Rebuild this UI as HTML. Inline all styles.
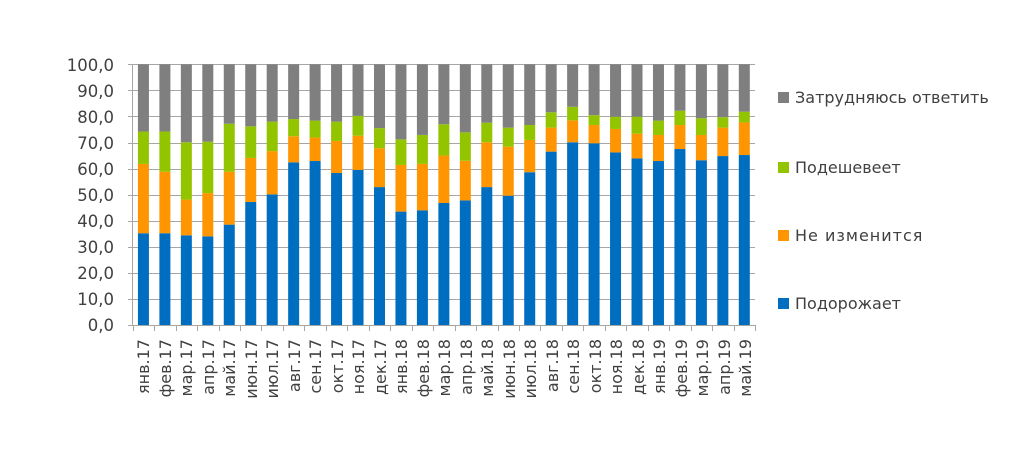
<!DOCTYPE html>
<html><head><meta charset="utf-8"><style>
html,body{margin:0;padding:0;background:#fff;}
svg{display:block;font-family:"DejaVu Sans","Liberation Sans",sans-serif;}
</style></head><body>
<svg id="c" width="1028" height="459" viewBox="0 0 1028 459" xmlns="http://www.w3.org/2000/svg">
<g id="grid" stroke="#a6a6a6" stroke-width="1"></g>
<g id="bars"></g>
<g font-size="16.5" fill="#404040" text-anchor="end">
<text x="114" y="331">0,0</text>
<text x="114" y="305">10,0</text>
<text x="114" y="279">20,0</text>
<text x="114" y="253">30,0</text>
<text x="114" y="227">40,0</text>
<text x="114" y="201">50,0</text>
<text x="114" y="175">60,0</text>
<text x="114" y="149">70,0</text>
<text x="114" y="123">80,0</text>
<text x="114" y="97">90,0</text>
<text x="114" y="71">100,0</text>
</g>
<g id="xl" font-size="16" fill="#404040" text-anchor="end">
<text transform="translate(149,339) rotate(-90)">янв.17</text>
<text transform="translate(171,339) rotate(-90)">фев.17</text>
<text transform="translate(192,339) rotate(-90)">мар.17</text>
<text transform="translate(214,339) rotate(-90)">апр.17</text>
<text transform="translate(235,339) rotate(-90)">май.17</text>
<text transform="translate(257,339) rotate(-90)">июн.17</text>
<text transform="translate(278,339) rotate(-90)">июл.17</text>
<text transform="translate(300,339) rotate(-90)">авг.17</text>
<text transform="translate(321,339) rotate(-90)">сен.17</text>
<text transform="translate(343,339) rotate(-90)">окт.17</text>
<text transform="translate(364,339) rotate(-90)">ноя.17</text>
<text transform="translate(386,339) rotate(-90)">дек.17</text>
<text transform="translate(407,339) rotate(-90)">янв.18</text>
<text transform="translate(429,339) rotate(-90)">фев.18</text>
<text transform="translate(450,339) rotate(-90)">мар.18</text>
<text transform="translate(472,339) rotate(-90)">апр.18</text>
<text transform="translate(493,339) rotate(-90)">май.18</text>
<text transform="translate(515,339) rotate(-90)">июн.18</text>
<text transform="translate(536,339) rotate(-90)">июл.18</text>
<text transform="translate(558,339) rotate(-90)">авг.18</text>
<text transform="translate(579,339) rotate(-90)">сен.18</text>
<text transform="translate(601,339) rotate(-90)">окт.18</text>
<text transform="translate(622,339) rotate(-90)">ноя.18</text>
<text transform="translate(644,339) rotate(-90)">дек.18</text>
<text transform="translate(665,339) rotate(-90)">янв.19</text>
<text transform="translate(687,339) rotate(-90)">фев.19</text>
<text transform="translate(708,339) rotate(-90)">мар.19</text>
<text transform="translate(730,339) rotate(-90)">апр.19</text>
<text transform="translate(751,339) rotate(-90)">май.19</text>
</g>
<g font-size="16" fill="#404040">
<rect x="778" y="92" width="11" height="11" fill="#7f7f7f"/><text x="795" y="103">Затрудняюсь ответить</text>
<rect x="778" y="162" width="11" height="11" fill="#92c500"/><text x="795" y="173">Подешевеет</text>
<rect x="778" y="230" width="11" height="11" fill="#ff9500"/><text x="795" y="241" letter-spacing="1">Не изменится</text>
<rect x="778" y="298" width="11" height="11" fill="#006ec0"/><text x="795" y="309">Подорожает</text>
</g>
</svg>
<script>
var d=[[35.2,61.8,74.2],[35.2,58.8,74.2],[34.4,48.1,70.1],[34.0,50.6,70.3],[38.5,58.8,77.2],[47.2,64.1,76.2],[50.1,66.7,78.0],[62.4,72.4,79.0],[62.9,71.9,78.4],[58.3,70.6,78.0],[59.5,72.6,80.2],[52.9,67.8,75.5],[43.5,61.4,71.2],[44.0,61.8,72.9],[46.8,65.0,77.0],[47.8,63.0,73.9],[52.9,70.1,77.6],[49.6,68.4,75.7],[58.6,71.0,76.7],[66.5,75.7,81.6],[70.1,78.5,83.7],[69.7,76.7,80.5],[66.2,75.2,79.9],[63.9,73.4,79.9],[62.9,72.9,78.4],[67.5,76.7,82.2],[63.2,72.9,79.3],[64.8,75.7,79.7],[65.2,77.7,81.8]];
var ns="http://www.w3.org/2000/svg",L=132.7,W=21.46,Y0=325,S=2.607;
function el(p,t,a){var e=document.createElementNS(ns,t);for(var k in a)e.setAttribute(k,a[k]);p.appendChild(e);}
var g=document.getElementById('grid'),b=document.getElementById('bars');
for(var i=0;i<=10;i++){var y=Math.round(Y0-i*10*S)+0.5;el(g,'line',{x1:128,x2:755,y1:y,y2:y});}
el(g,'line',{x1:132.5,x2:132.5,y1:64,y2:325});
for(var i=0;i<=29;i++){var x=Math.round(L+i*W)+0.5;el(g,'line',{x1:x,x2:x,y1:325,y2:331});}
var cols=['#006ec0','#ff9500','#92c500','#7f7f7f'];
d.forEach(function(v,i){var cx=L+(i+0.5)*W,x=cx-5.5,p=[0,v[0],v[1],v[2],100];
for(var k=0;k<4;k++){var y1=Y0-p[k+1]*S,y0=Y0-p[k]*S;el(b,'rect',{x:x,y:y1,width:11,height:y0-y1,fill:cols[k]});}});
</script>
</body></html>
